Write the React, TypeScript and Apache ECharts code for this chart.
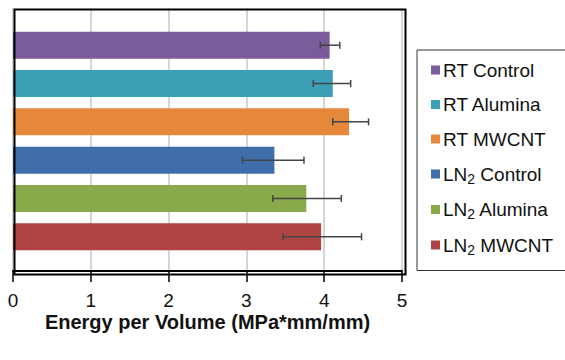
import React, { useEffect, useRef } from "react";
import * as echarts from "echarts";

const categories = ["RT Control", "RT Alumina", "RT MWCNT", "LN2 Control", "LN2 Alumina", "LN2 MWCNT"];
const means = [4.07, 4.11, 4.32, 3.36, 3.77, 3.96];
const errLow = [0.12, 0.25, 0.21, 0.41, 0.43, 0.49];
const errHigh = [0.13, 0.23, 0.25, 0.38, 0.45, 0.52];
const colors = ["#7a5c9a", "#3d9fb6", "#e5883b", "#3f6eab", "#8aa94a", "#ae4542"];
const xTicks = [0, 1, 2, 3, 4, 5];

export default function App() {
  const ref = useRef<HTMLDivElement>(null);
  useEffect(() => {
    if (!ref.current) return;
    const chart = echarts.init(ref.current, null, { renderer: "svg" });
    const font = "'Liberation Sans', Arial, sans-serif";
    const barSeries = categories.map((name, i) => ({
      type: "bar",
      name,
      xAxisIndex: 1,
      yAxisIndex: 1,
      barWidth: 27,
      barGap: "-100%",
      itemStyle: { color: colors[i] },
      data: categories.map((_, j) => (j === i ? means[i] : "-")),
    }));
    const errData = categories.map((_, i) => [i, means[i] - errLow[i], means[i] + errHigh[i]]);
    chart.setOption({
      animation: false,
      textStyle: { fontFamily: font },
      grid: [
        { left: 13, right: 163, top: 8, bottom: 89 },
        { left: 13, right: 163, top: 26, bottom: 104 },
      ],
      graphic: [
        {
          type: "rect",
          left: 12,
          top: 7,
          z: 100,
          shape: { width: 391, height: 265 },
          style: { fill: "none", stroke: "#000", lineWidth: 2 },
          silent: true,
        },
      ],
      xAxis: [
        {
          gridIndex: 0,
          type: "value",
          min: 0,
          max: 5,
          interval: 1,
          position: "bottom",
          axisLine: { show: true, onZero: false, lineStyle: { color: "#000", width: 2 } },
          axisTick: { show: true, length: 11, lineStyle: { color: "#000", width: 1.5 } },
          axisLabel: { color: "#111", fontSize: 19, lineHeight: 19, margin: 20, fontFamily: font, formatter: (v: number) => String(xTicks[v] ?? v) },
          splitLine: { show: true, lineStyle: { color: "#c8c8c8", width: 1.5 } },
          name: "Energy per Volume (MPa*mm/mm)",
          nameLocation: "middle",
          nameGap: 41,
          nameMoveOverlap: false,
          nameTextStyle: { color: "#111", fontSize: 20, lineHeight: 20, fontWeight: "bold", fontFamily: font },
        },
        { gridIndex: 1, type: "value", min: 0, max: 5, show: false },
      ],
      yAxis: [
        { gridIndex: 0, type: "value", min: 0, max: 1, show: false, splitLine: { show: false } },
        {
          gridIndex: 1,
          type: "category",
          data: categories,
          inverse: true,
          show: false,
        },
      ],
      legend: {
        orient: "vertical",
        left: 417,
        top: 50,
        padding: [9, 18, 14, 14],
        itemGap: 12.5,
        itemWidth: 9,
        itemHeight: 9,
        borderColor: "#333",
        borderWidth: 1,
        icon: "rect",
        data: categories,
        formatter: (name: string) => name.replace("LN2", "LN{sub|2}"),
        textStyle: {
          color: "#111",
          fontSize: 19,
          lineHeight: 22,
          fontFamily: font,
          padding: [0, 0, 0, -2],
          rich: {
            sub: { fontSize: 14, lineHeight: 14, padding: [9, 0, 0, 0], color: "#111", fontFamily: font },
          },
        },
      },
      series: [
        ...barSeries,
        {
          type: "custom",
          name: "err",
          xAxisIndex: 1,
          yAxisIndex: 1,
          encode: { y: 0, x: [1, 2] },
          z: 10,
          data: errData,
          renderItem: (params: any, api: any) => {
            const c = api.value(0);
            const p1 = api.coord([api.value(1), c]);
            const p2 = api.coord([api.value(2), c]);
            const h = 3.5;
            const style = { stroke: "#444", lineWidth: 1.5 };
            return {
              type: "group",
              children: [
                { type: "line", shape: { x1: p1[0], y1: p1[1], x2: p2[0], y2: p2[1] }, style },
                { type: "line", shape: { x1: p1[0], y1: p1[1] - h, x2: p1[0], y2: p1[1] + h }, style },
                { type: "line", shape: { x1: p2[0], y1: p2[1] - h, x2: p2[0], y2: p2[1] + h }, style },
              ],
            };
          },
        },
      ],
    });
    return () => chart.dispose();
  }, []);
  return <div ref={ref} style={{ width: 565, height: 360, position: "absolute", left: 0, top: 0 }} />;
}
